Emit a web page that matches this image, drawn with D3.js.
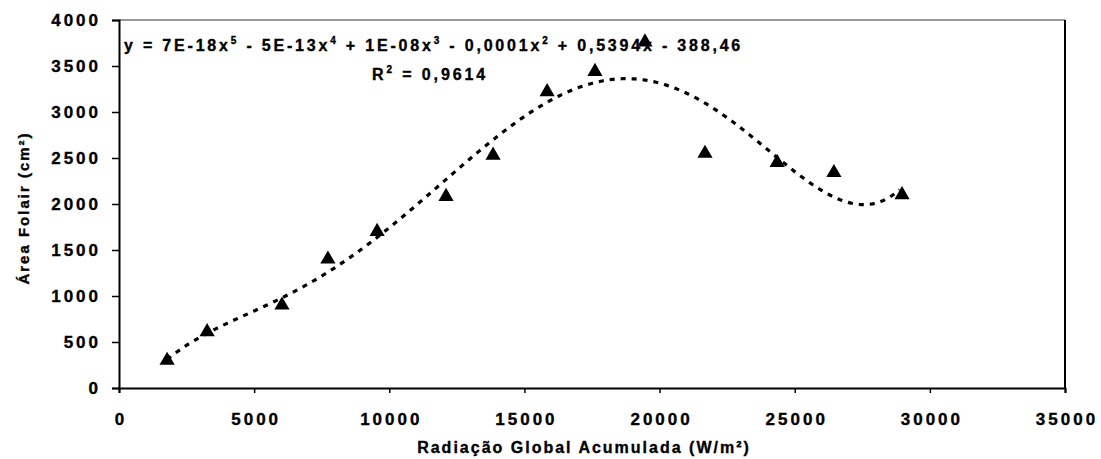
<!DOCTYPE html>
<html lang="pt">
	<head>
		<meta charset="UTF-8">
		<title>Área Foliar</title>
		<script src="https://cdnjs.cloudflare.com/ajax/libs/d3/7.8.5/d3.min.js"></script>
		<style>
			body {margin: 0; background: #fff;}
			text {font-family: "Liberation Sans", Arial, sans-serif; font-weight: bold; fill: #000; stroke: #000; stroke-width: 0.35px;}
		</style>
		<script>
// radiação acumulada (W/m²) e área foliar (cm²)
var radiacao = [1780, 3260, 6030, 7730, 9550, 12100, 13840, 15840, 17610, 19460, 21680, 24350, 26450, 28970];
var areaFolair = [300, 610, 900, 1400, 1700, 2080, 2530, 3220, 3440, 3760, 2550, 2450, 2340, 2100];

var xTicks = [0, 5000, 10000, 15000, 20000, 25000, 30000, 35000];
var yTicks = [0, 500, 1000, 1500, 2000, 2500, 3000, 3500, 4000];

// pieces of the trendline label: [text, exponent]
var eqParts = [["y = 7E-18x", "5"], [" - 5E-13x", "4"], [" + 1E-08x", "3"], [" - 0,0001x", "2"], [" + 0,5394x - 388,46", null]];

// least squares polynomial (Excel style trendline), x scaled by 1e4 for stability
function polyfit(xs, ys, deg) {
	var s = 1e4, n = deg + 1;
	var A = [], b = [];
	for (var i = 0; i < n; i++) {
		A.push(new Array(n).fill(0));
		b.push(0);
	}
	xs.forEach(function(x, k) {
		var u = x / s;
		for (var i = 0; i < n; i++) {
			b[i] += ys[k] * Math.pow(u, i);
			for (var j = 0; j < n; j++) A[i][j] += Math.pow(u, i + j);
		}
	});
	for (var c = 0; c < n; c++) {
		var p = c;
		for (var r = c + 1; r < n; r++) if (Math.abs(A[r][c]) > Math.abs(A[p][c])) p = r;
		var t = A[c]; A[c] = A[p]; A[p] = t;
		t = b[c]; b[c] = b[p]; b[p] = t;
		for (var r = c + 1; r < n; r++) {
			var f = A[r][c] / A[c][c];
			for (var j = c; j < n; j++) A[r][j] -= f * A[c][j];
			b[r] -= f * b[c];
		}
	}
	var coef = new Array(n).fill(0);
	for (var r = n - 1; r >= 0; r--) {
		var sum = b[r];
		for (var j = r + 1; j < n; j++) sum -= A[r][j] * coef[j];
		coef[r] = sum / A[r][r];
	}
	return function(x) {
		var u = x / s, y = 0;
		for (var i = n - 1; i >= 0; i--) y = y * u + coef[i];
		return y;
	};
}

// stretch a text to a given width by letter spacing (the scan is wide-spaced)
function fitWidth(sel, width) {
	var node = sel.node();
	var chars = node.textContent.length;
	var w = node.getComputedTextLength();
	sel.style("letter-spacing", ((width - w) / chars) + "px");
}

function makeChart() {
	var svg = d3.select("#chart").attr("width", 1101).attr("height", 459);

	var left = 119, right = 1065, top = 20, bottom = 388;

	var x = d3.scaleLinear().domain([0, 35000]).range([left, right]);
	var y = d3.scaleLinear().domain([0, 4000]).range([bottom, top]);

	// frame
	svg.append("line")
		.attr("x1", left).attr("x2", right).attr("y1", top).attr("y2", top)
		.attr("stroke", "#777").attr("stroke-width", 1.5);
	svg.append("line")
		.attr("x1", right).attr("x2", right).attr("y1", top).attr("y2", bottom)
		.attr("stroke", "#000").attr("stroke-width", 2);

	var xAxis = svg.append("g")
		.attr("transform", "translate(0," + bottom + ")")
		.call(d3.axisBottom(x).tickValues(xTicks).tickSize(5).tickPadding(20).tickFormat(d3.format("d")));
	var yAxis = svg.append("g")
		.attr("transform", "translate(" + left + ",0)")
		.call(d3.axisLeft(y).tickValues(yTicks).tickSize(7).tickPadding(11).tickFormat(d3.format("d")));

	[xAxis, yAxis].forEach(function(g) {
		g.select(".domain").attr("stroke", "#000").attr("stroke-width", 2);
		g.selectAll(".tick line").attr("stroke", "#000").attr("stroke-width", 1.5);
		g.selectAll(".tick text")
			.style("font-size", "17px").style("font-family", "Liberation Sans, Arial, sans-serif")
			.style("font-weight", "bold").style("letter-spacing", "3px")
			.attr("fill", "#000").attr("stroke", "#000").attr("stroke-width", 0.35);
	});
	xAxis.selectAll(".tick text").attr("dx", "1.5px");

	// trendline
	var fit = polyfit(radiacao, areaFolair, 5);
	var xs = d3.range(d3.min(radiacao), d3.max(radiacao) + 1, 100);
	svg.append("path")
		.datum(xs)
		.attr("fill", "none")
		.attr("stroke", "#000")
		.attr("stroke-width", 3.2)
		.attr("stroke-dasharray", "5,6")
		.attr("d", d3.line().x(function(d) {return x(d);}).y(function(d) {return y(fit(d));}));

	// points
	svg.selectAll(".pt")
		.data(radiacao)
		.enter().append("path")
		.attr("class", "pt")
		.attr("transform", function(d, i) {return "translate(" + x(d) + "," + y(areaFolair[i]) + ")";})
		.attr("d", d3.symbol().type(d3.symbolTriangle).size(100))
		.attr("fill", "#000");

	// equation
	var eq = svg.append("text")
		.attr("x", 124).attr("y", 51)
		.style("font-size", "16px");
	eqParts.forEach(function(p, i) {
		eq.append("tspan").attr("dy", i > 0 && eqParts[i - 1][1] ? 7 : 0).text(p[0]);
		if (p[1]) eq.append("tspan").attr("dy", -7).style("font-size", "10px").text(p[1]);
	});
	fitWidth(eq, 619);

	var r2 = svg.append("text")
		.attr("x", 372).attr("y", 80)
		.style("font-size", "16px");
	r2.append("tspan").text("R");
	r2.append("tspan").attr("dy", -7).style("font-size", "10px").text("2");
	r2.append("tspan").attr("dy", 7).text(" = 0,9614");
	fitWidth(r2, 116);

	// axis titles
	svg.append("text")
		.attr("x", 584).attr("y", 453)
		.attr("text-anchor", "middle")
		.style("font-size", "16px").style("letter-spacing", "2px")
		.text("Radiação Global Acumulada (W/m²)");
	svg.append("text")
		.attr("transform", "translate(29,208) rotate(-90)")
		.attr("text-anchor", "middle")
		.style("font-size", "15px").style("letter-spacing", "2px")
		.text("Área Folair (cm²)");
}
		</script>
	</head>
	<body onload="makeChart()">
		<svg id="chart"></svg>
	</body>
</html>
